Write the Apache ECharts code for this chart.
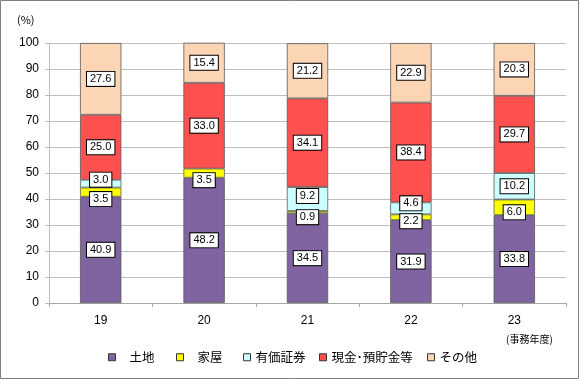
<!DOCTYPE html>
<html><head><meta charset="utf-8">
<script src="https://cdn.jsdelivr.net/npm/echarts@6/dist/echarts.min.js"></script>
<style>html,body{margin:0;padding:0;background:#fff}#c{width:580px;height:380px}</style>
</head><body><div id="c"></div>
<script>
const categories = ['19', '20', '21', '22', '23'];
const seriesNames = ['土地', '家屋', '有価証券', '現金･預貯金等', 'その他'];
const land = [40.9, 48.2, 34.5, 31.9, 33.8];
const house = [3.5, 3.5, 0.9, 2.2, 6.0];
const securities = [3.0, null, 9.2, 4.6, 10.2];
const cash = [25.0, 33.0, 34.1, 38.4, 29.7];
const other = [27.6, 15.4, 21.2, 22.9, 20.3];
const yTicks = [0, 10, 20, 30, 40, 50, 60, 70, 80, 90, 100];

const colors = ['#8064A2', '#FFFF00', '#CCFFFF', '#FF5050', '#FCD5B5'];
const values = [land, house, securities, cash, other];
// label vertical nudges (px) for small segments, style only
const labelNudge = [
  [0, 0, 0, 0, 0],
  [7, 7, 5, 4, 5],
  [-4, 0, -3, -5, 0],
  [0, 0, 0, 0, 0],
  [0, 0, 0, 0, 0]
];

const chart = echarts.init(document.getElementById('c'), null, {renderer: 'canvas'});
const series = values.map((arr, si) => ({
  name: seriesNames[si],
  type: 'bar',
  stack: 'total',
  barWidth: '40%',
  data: arr.map((v, i) => ({
    value: v,
    label: {offset: [0, labelNudge[si][i]]}
  })),
  itemStyle: {color: colors[si], borderColor: '#595959', borderWidth: 0.8},
  label: {
    show: true,
    position: 'inside',
    formatter: p => (p.value == null ? '' : Number(p.value).toFixed(1)),
    color: '#000',
    fontSize: 11,
    fontFamily: 'Liberation Sans, Arial, sans-serif',
    backgroundColor: '#fff',
    borderColor: '#000',
    borderWidth: 1,
    padding: [2, 3, 1, 3]
  },
  emphasis: {disabled: true}
}));

const legendPos = [108, 176, 243, 319, 427];
const legends = seriesNames.map((n, i) => ({
  data: [n],
  left: legendPos[i],
  top: 351,
  itemWidth: 7,
  itemHeight: 7,
  itemGap: 0,
  padding: 0,
  icon: 'rect',
  selectedMode: false,
  itemStyle: {borderColor: '#333', borderWidth: 1},
  textStyle: {fontSize: 12.5, color: '#000', fontFamily: 'Noto Sans CJK JP', padding: [0, 0, 0, i < 2 ? 9 : 0]}
}));

chart.setOption({
  animation: false,
  grid: {left: 49, right: 14, top: 43, bottom: 77},
  legend: legends,
  xAxis: {
    type: 'category',
    data: categories,
    axisLine: {lineStyle: {color: '#A6A6A6'}},
    axisTick: {show: true, length: 4, lineStyle: {color: '#A6A6A6'}},
    axisLabel: {color: '#000', fontSize: 12, margin: 12, fontFamily: 'Liberation Sans, Arial, sans-serif'}
  },
  yAxis: {
    type: 'value',
    min: 0, max: 100, interval: 10,
    axisLine: {show: true, lineStyle: {color: '#BFBFBF'}},
    axisTick: {show: true, length: 4, lineStyle: {color: '#BFBFBF'}},
    splitLine: {lineStyle: {color: '#BFBFBF'}},
    axisLabel: {color: '#000', fontSize: 12, margin: 10, fontFamily: 'Liberation Sans, Arial, sans-serif',
      formatter: v => (yTicks.indexOf(v) >= 0 ? String(v) : '')}
  },
  graphic: [
    {type: 'rect', shape: {x: 0.5, y: 0.5, width: 578, height: 378}, style: {fill: 'none', stroke: '#7F7F7F', lineWidth: 1}, silent: true},
    {type: 'text', left: 17, top: 14, style: {text: '(%)', fontSize: 11, fill: '#000', fontFamily: 'Noto Sans CJK JP'}},
    {type: 'text', left: 506, top: 334, style: {text: '(事務年度)', fontSize: 10, fill: '#000', fontFamily: 'Noto Sans CJK JP'}}
  ],
  series: series
});
</script></body></html>
